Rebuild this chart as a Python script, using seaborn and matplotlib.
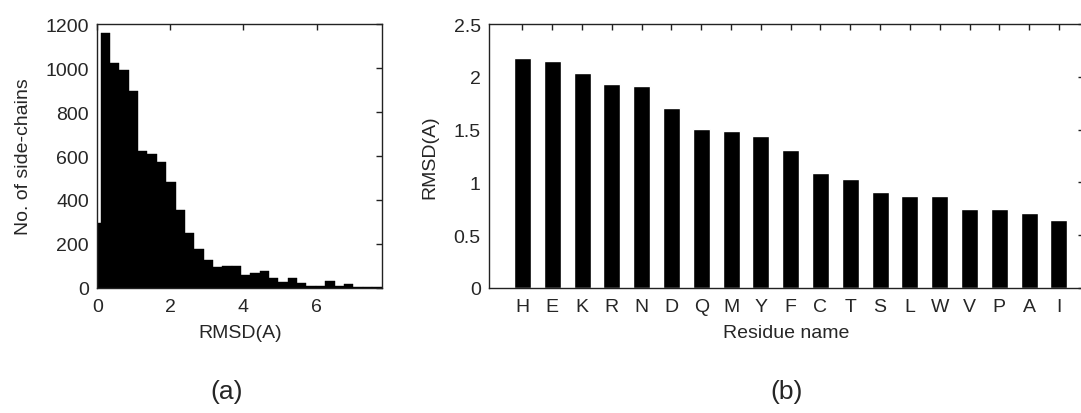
import numpy as np
import pandas as pd
import matplotlib
matplotlib.use("Agg")
import matplotlib.pyplot as plt
import seaborn as sns

# (a) histogram of side-chain RMSD
bin_start = -0.163
bin_width = 0.256
hist_counts = [294, 1159, 1023, 989, 895, 625, 608, 574, 482, 355, 252, 177,
               127, 95, 102, 102, 59, 68, 78, 44, 27, 44, 25, 10, 8, 33, 8,
               20, 6, 5, 4, 3]

# (b) mean RMSD per residue type
residues = ["H", "E", "K", "R", "N", "D", "Q", "M", "Y", "F", "C", "T", "S",
            "L", "W", "V", "P", "A", "I"]
rmsd = [2.18, 2.145, 2.04, 1.935, 1.915, 1.705, 1.51, 1.49, 1.44, 1.31, 1.085,
        1.03, 0.905, 0.87, 0.87, 0.745, 0.745, 0.71, 0.64]

sns.set_style("white")
plt.rcParams["font.family"] = ["Liberation Sans", "DejaVu Sans"]

W, H = 1081, 414
fig = plt.figure(figsize=(W / 100, H / 100), dpi=100)

# axes placed in pixel coords of the reference
ax_a = fig.add_axes([97.3 / W, 1 - 289 / H, (382.3 - 97.3) / W, 264 / H])
ax_b = fig.add_axes([489 / W, 1 - 289 / H, (1084 - 489) / W, 264 / H])

edges = [bin_start + bin_width * i for i in range(len(hist_counts) + 1)]
centers = [(edges[i] + edges[i + 1]) / 2 for i in range(len(hist_counts))]
df_a = pd.DataFrame({"rmsd": centers, "count": hist_counts})
sns.histplot(data=df_a, x="rmsd", weights="count", bins=edges, ax=ax_a,
             color="black", alpha=1, edgecolor="black", linewidth=0.3)
ax_a.set_xlim(0, 7.8)
ax_a.set_ylim(0, 1200)
ax_a.set_xticks([0, 2, 4, 6])
ax_a.set_yticks(range(0, 1201, 200))
ax_a.set_xlabel("RMSD(A)", fontsize=14, labelpad=7)
ax_a.set_ylabel("No. of side-chains", fontsize=14, labelpad=10)

df_b = pd.DataFrame({"res": residues, "rmsd": rmsd})
sns.barplot(data=df_b, x="res", y="rmsd", ax=ax_b, color="black",
            saturation=1, width=0.57)
ax_b.set_xlim(-1.12, 18.84)
ax_b.set_ylim(0, 2.5)
ax_b.set_yticks([0, 0.5, 1, 1.5, 2, 2.5])
ax_b.set_yticklabels(["0", "0.5", "1", "1.5", "2", "2.5"])
ax_b.set_xlabel("Residue name", fontsize=14, labelpad=7)
ax_b.set_ylabel("RMSD(A)", fontsize=14, labelpad=11)

for ax in (ax_a, ax_b):
    for s in ax.spines.values():
        s.set_visible(True)
        s.set_color("#222222")
        s.set_linewidth(1.0)
    ax.tick_params(direction="in", length=4, width=1, color="#222222",
                   top=True, right=True, labelsize=14)
    ax.tick_params(axis="x", pad=7)
    ax.tick_params(axis="y", pad=6)

fig.text(227 / W, 1 - 392 / H, "(a)", fontsize=19, ha="center", va="center")
fig.text(787 / W, 1 - 392 / H, "(b)", fontsize=19, ha="center", va="center")

fig.savefig("out.png", dpi=100)
